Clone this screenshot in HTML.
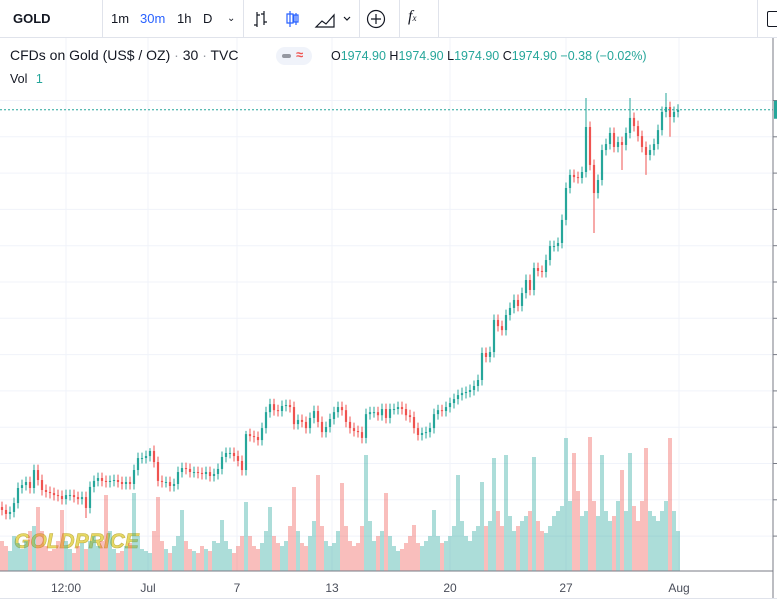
<!DOCTYPE html>
<html><head><meta charset="utf-8">
<style>
body{margin:0;width:777px;height:611px;overflow:hidden;background:#fff;font-family:"Liberation Sans",sans-serif;}
#root{position:relative;width:777px;height:611px;}
.tb{position:absolute;top:0;left:0;width:777px;height:38px;border-bottom:1px solid #e0e3eb;box-sizing:border-box;}
.tbt{position:absolute;top:11px;font-size:13px;color:#131722;}
.sep{position:absolute;top:0;width:1px;height:38px;background:#e0e3eb;}
.leg{position:absolute;font-size:14px;color:#131722;white-space:nowrap;}
</style></head><body>
<div id="root">
<div class="tb">
  <div class="tbt" style="left:13px;font-weight:bold;">GOLD</div>
  <div class="sep" style="left:102px"></div>
  <div class="tbt" style="left:111px">1m</div>
  <div class="tbt" style="left:140px;color:#2962ff">30m</div>
  <div class="tbt" style="left:177px">1h</div>
  <div class="tbt" style="left:203px">D</div>
  <div class="tbt" style="left:227px;font-size:10px;top:13px">&#8964;</div>
  <div class="sep" style="left:243px"></div>
  <svg style="position:absolute;left:252px;top:9px" width="100" height="20">
    <g stroke="#131722" stroke-width="1.2" fill="none">
      <path d="M5 3v15M2 16h3M5 6h3M12 2v14M9 5h3M12 13h3"/>
      <path d="M38 2v16M35 5h6v9h-6z" stroke="#2962ff"/><path d="M44 4v12M42 6h4v7h-4z" stroke="#2962ff"/>
      <path d="M64 18l6-6 4 3 8-9v12z M64 18h18"/>
      <path d="M92 8l3 3 3-3"/>
    </g>
  </svg>
  <div class="sep" style="left:359px"></div>
  <svg style="position:absolute;left:366px;top:9px" width="20" height="20"><circle cx="10" cy="10" r="8.5" stroke="#131722" stroke-width="1.2" fill="none"/><path d="M10 5v10M5 10h10" stroke="#131722" stroke-width="1.2"/></svg>
  <div class="sep" style="left:399px"></div>
  <div class="tbt" style="left:408px;font-style:italic;font-family:'Liberation Serif',serif;font-size:16px;top:8px">f<span style="font-size:9px">x</span></div>
  <div class="sep" style="left:438px"></div>
  <div class="sep" style="left:757px"></div>
  <div style="position:absolute;left:767px;top:11px;width:12px;height:14px;border:1px solid #131722;border-radius:2px"></div>
</div>
<svg id="chart" style="position:absolute;left:0;top:38px" width="777" height="573"></svg>
<div class="leg" style="left:10px;top:47px">CFDs on Gold (US$ / OZ) <span style="color:#9598a1">·</span> 30 <span style="color:#9598a1">·</span> TVC</div>
<div style="position:absolute;left:276px;top:47px;width:36px;height:18px;border-radius:9px;background:#f0f3fa"><div style="position:absolute;left:6px;top:7px;width:9px;height:4px;border-radius:2px;background:#9598a1"></div><div style="position:absolute;left:20px;top:0px;color:#ef5350;font-size:13px;font-weight:bold">≈</div></div>
<div class="leg" style="left:331px;top:49px;font-size:12.5px;color:#26a69a"><span style="color:#131722">O</span>1974.90 <span style="color:#131722">H</span>1974.90 <span style="color:#131722">L</span>1974.90 <span style="color:#131722">C</span>1974.90 −0.38 (−0.02%)</div>
<div class="leg" style="left:10px;top:72px;font-size:12.5px">Vol <span style="color:#26a69a;margin-left:5px">1</span></div>
<div style="position:absolute;left:0;top:598px;width:777px;height:1px;background:#e0e3eb"></div>
</div>
<script>
const closes=[
1754.4,1752.2,1753.3,1758.2,1766.5,1768.1,1769.8,1766.5,1776.4,1770.9,
1765.4,1764.3,1763.7,1762.6,1762.1,1760.4,1762.6,1762.6,1761.5,1760.4,
1761.5,1755.5,1767.1,1770.4,1772.0,1770.4,1769.8,1770.4,1770.9,1769.8,
1768.7,1769.8,1768.7,1776.4,1783.0,1783.0,1784.1,1786.9,1780.8,1770.4,
1769.8,1769.8,1767.6,1768.7,1775.3,1777.5,1777.0,1775.3,1775.3,1774.8,
1774.2,1775.3,1773.1,1774.2,1777.0,1783.6,1785.8,1785.8,1784.1,1781.4,
1776.4,1796.2,1795.1,1794.6,1792.9,1799.5,1808.3,1812.7,1809.4,1808.9,
1811.7,1812.2,1811.1,1801.7,1804.0,1802.9,1799.5,1805.1,1808.9,1802.9,
1797.3,1800.1,1804.5,1808.3,1811.1,1809.4,1802.9,1799.5,1797.9,1797.3,
1794.1,1807.2,1808.3,1808.3,1806.6,1810.0,1805.1,1810.0,1810.0,1811.1,
1810.0,1806.6,1805.6,1799.5,1795.7,1796.8,1797.3,1799.5,1807.2,1809.4,
1808.9,1811.1,1813.3,1815.5,1817.7,1818.8,1819.4,1820.5,1822.7,1826.0,
1840.9,1838.7,1841.4,1859.1,1855.7,1853.5,1861.8,1865.7,1870.1,1866.8,
1873.9,1881.1,1875.6,1887.7,1886.1,1885.5,1892.1,1899.8,1899.8,1901.5,
1914.2,1931.8,1939.0,1937.8,1937.3,1940.6,1965.4,1944.5,1929.0,1936.2,
1952.7,1956.0,1962.1,1954.4,1957.1,1955.5,1962.1,1970.4,1965.9,1960.4,
1954.4,1950.0,1952.7,1956.0,1963.7,1973.7,1976.4,1970.9,1973.7,1974.9];
const firstOpen=1756.0;
const highSpikeIdx=[37,61,146,157,166];
const highSpikeVal=[1788.5,1798.0,1981.4,1981.4,1984.1];
const lowSpikeIdx=[21,148,155,161,167];
const lowSpikeVal=[1750.0,1907.0,1941.7,1939.0,1960.0];
const volumes=[
30,25,20,35,28,22,30,40,45,64,40,25,20,22,30,61,30,22,18,25,
28,22,30,35,25,30,76,40,22,18,20,25,28,78,35,22,20,18,40,74,
30,22,18,25,35,61,30,22,20,18,25,22,20,30,28,51,30,22,18,25,
35,69,35,25,22,28,40,64,35,28,25,30,45,84,40,28,25,35,50,96,
45,30,25,28,40,88,45,30,25,28,45,116,50,30,35,40,78,35,25,20,
22,28,35,46,28,25,30,35,61,35,28,30,35,45,96,50,35,30,40,45,
89,45,50,113,60,45,116,55,40,45,50,55,60,114,50,40,38,45,55,60,
65,133,70,118,80,55,60,134,70,55,116,60,50,55,70,101,60,118,65,50,
70,123,60,55,50,60,70,133,60,40];
const priceTicks=[1980,1960,1940,1920,1900,1880,1860,1840,1820,1800,1780,1760,1740];
const timeLabels=["12:00","Jul","7","13","20","27","Aug"];
const timeLabelIdx=[16,36.5,58.75,82.5,112,141,169.25];
const lastPrice=1974.9;

const svg=document.getElementById('chart');
const NS='http://www.w3.org/2000/svg';
const OY=38, plotRight=773, axisY=571-OY, x0=2, step=4;
function xS(i){return x0+i*step;}
function yS(p){return 100.5-OY+(1980-p)*1.815;}
const vMax=135;
function vS(v){return axisY - v/vMax*135;}
function mk(t,a){const e=document.createElementNS(NS,t);for(const k in a)e.setAttribute(k,a[k]);svg.appendChild(e);return e;}

priceTicks.forEach(p=>{const y=yS(p);
 const g=mk('line',{x1:0,x2:plotRight,y1:y,y2:y,stroke:'#f0f3fa','stroke-width':1});
 
 
 const t=mk('line',{x1:plotRight,x2:777,y1:y,y2:y,stroke:'#787b86'});
 
 
});
timeLabels.forEach((l,k)=>{const x=xS(timeLabelIdx[k]);
 const g=mk('line',{x1:x,x2:x,y1:0,y2:axisY,stroke:'#f0f3fa'});
 
 
 const t=mk('text',{x:x,y:axisY+21,'text-anchor':'middle','font-size':12,fill:'#4a4e5a','font-family':'Liberation Sans, sans-serif'});
 t.textContent=l;
 
 
});
const wm=mk('text',{x:14,y:548-OY,'font-size':21,'font-weight':'bold','font-style':'italic',fill:'#e3d24a',stroke:'#b9a52a','stroke-width':0.6,'font-family':'Liberation Sans, sans-serif',opacity:0.85});
wm.textContent='GOLDPRICE';



closes.forEach((c,i)=>{
 const o=i===0?firstOpen:closes[i-1];
 const up=c>=o;
 const vb=mk('rect',{x:xS(i)-2,y:vS(volumes[i]),width:4,height:axisY-vS(volumes[i]),fill:up?'#26a69a':'#ef5350',opacity:0.38});
 
 
});
closes.forEach((c,i)=>{
 const o=i===0?firstOpen:closes[i-1];
 const up=c>=o;
 const col=up?'#26a69a':'#ef5350';
 let hi=Math.max(o,c)+3.0, lo=Math.min(o,c)-3.0;
 const hk=highSpikeIdx.indexOf(i); if(hk>=0)hi=highSpikeVal[hk];
 const lk=lowSpikeIdx.indexOf(i); if(lk>=0)lo=lowSpikeVal[lk];
 const w=mk('line',{x1:xS(i),x2:xS(i),y1:yS(hi),y2:yS(lo),stroke:col,'stroke-width':1});
 
 
 const b=mk('rect',{x:xS(i)-1.1,y:yS(Math.max(o,c)),width:2.2,height:Math.max(1,Math.abs(yS(o)-yS(c))),fill:col});
 
 
});
const ly=yS(lastPrice);
const pl=mk('line',{x1:0,x2:plotRight,y1:ly,y2:ly,stroke:'#26a69a','stroke-dasharray':'2,2'});


const pb=mk('rect',{x:plotRight+1,y:ly-9,width:5,height:18,fill:'#26a69a'});


const ax=mk('line',{x1:0,x2:plotRight,y1:axisY,y2:axisY,stroke:'#787b86'});


const ay=mk('line',{x1:plotRight,x2:plotRight,y1:0,y2:axisY+28,stroke:'#787b86'});


</script>
</body></html>
